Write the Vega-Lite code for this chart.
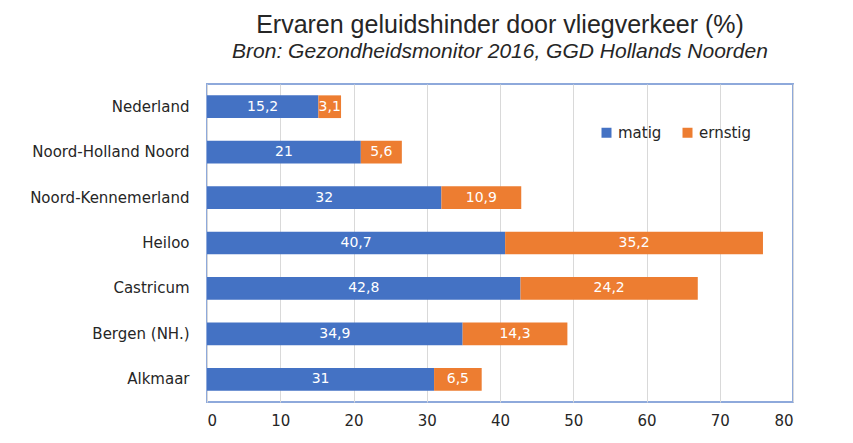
{
  "$schema": "https://vega.github.io/schema/vega-lite/v6.json",
  "width": 586,
  "height": 318,
  "autosize": {"type": "none"},
  "padding": {"left": 207, "top": 84, "right": 60, "bottom": 41},
  "background": "white",
  "config": {
    "locale": {"number": {"decimal": ",", "thousands": ".", "grouping": [3], "currency": ["€", ""]}},
    "view": {"stroke": "#8EA9DB", "strokeWidth": 2},
    "font": "DejaVu Sans"
  },
  "title": {
    "text": "Ervaren geluidshinder door vliegverkeer (%)",
    "subtitle": "Bron: Gezondheidsmonitor 2016, GGD Hollands Noorden",
    "anchor": "middle",
    "font": "Liberation Sans Narrow, Liberation Sans",
    "fontSize": 25,
    "fontWeight": "normal",
    "color": "#262626",
    "subtitleFont": "Liberation Sans Narrow, Liberation Sans",
    "subtitleFontSize": 21,
    "subtitleFontStyle": "italic",
    "subtitleColor": "#262626",
    "subtitlePadding": 3,
    "offset": 22
  },
  "data": {
    "values": [
      {"regio": "Nederland", "reeks": "matig", "waarde": 15.2},
      {"regio": "Nederland", "reeks": "ernstig", "waarde": 3.1},
      {"regio": "Noord-Holland Noord", "reeks": "matig", "waarde": 21},
      {"regio": "Noord-Holland Noord", "reeks": "ernstig", "waarde": 5.6},
      {"regio": "Noord-Kennemerland", "reeks": "matig", "waarde": 32},
      {"regio": "Noord-Kennemerland", "reeks": "ernstig", "waarde": 10.9},
      {"regio": "Heiloo", "reeks": "matig", "waarde": 40.7},
      {"regio": "Heiloo", "reeks": "ernstig", "waarde": 35.2},
      {"regio": "Castricum", "reeks": "matig", "waarde": 42.8},
      {"regio": "Castricum", "reeks": "ernstig", "waarde": 24.2},
      {"regio": "Bergen (NH.)", "reeks": "matig", "waarde": 34.9},
      {"regio": "Bergen (NH.)", "reeks": "ernstig", "waarde": 14.3},
      {"regio": "Alkmaar", "reeks": "matig", "waarde": 31},
      {"regio": "Alkmaar", "reeks": "ernstig", "waarde": 6.5}
    ]
  },
  "encoding": {
    "y": {
      "field": "regio",
      "type": "nominal",
      "sort": null,
      "scale": {"paddingInner": 0.5, "paddingOuter": 0.25},
      "axis": {
        "title": null,
        "ticks": false,
        "domain": false,
        "labelFontSize": 15,
        "labelColor": "#262626",
        "labelPadding": 18
      }
    }
  },
  "layer": [
    {
      "mark": {"type": "bar"},
      "encoding": {
        "x": {
          "field": "waarde",
          "type": "quantitative",
          "stack": "zero",
          "scale": {"domain": [0, 80], "nice": false},
          "axis": {
            "title": null,
            "values": [0, 10, 20, 30, 40, 50, 60, 70, 80],
            "ticks": false,
            "domain": false,
            "gridColor": "#D9D9D9",
            "labelFontSize": 15,
            "labelColor": "#262626",
            "labelPadding": 11
          }
        },
        "color": {
          "field": "reeks",
          "type": "nominal",
          "scale": {"domain": ["matig", "ernstig"], "range": ["#4472C4", "#ED7D31"]},
          "legend": {
            "title": null,
            "orient": "none",
            "direction": "horizontal",
            "legendX": 392,
            "legendY": 41,
            "symbolType": "square",
            "symbolSize": 100,
            "symbolOpacity": 1,
            "labelFontSize": 15,
            "labelColor": "#262626",
            "columnPadding": 18,
            "labelOffset": 4
          }
        },
        "order": {"field": "reeks", "sort": "descending"}
      }
    },
    {
      "mark": {"type": "text", "color": "white", "fontSize": 14, "align": "center", "baseline": "middle"},
      "encoding": {
        "x": {"field": "waarde", "type": "quantitative", "stack": "zero", "bandPosition": 0.5},
        "detail": {"field": "reeks"},
        "order": {"field": "reeks", "sort": "descending"},
        "text": {"field": "waarde", "type": "quantitative", "format": ".3~g"}
      }
    }
  ]
}
